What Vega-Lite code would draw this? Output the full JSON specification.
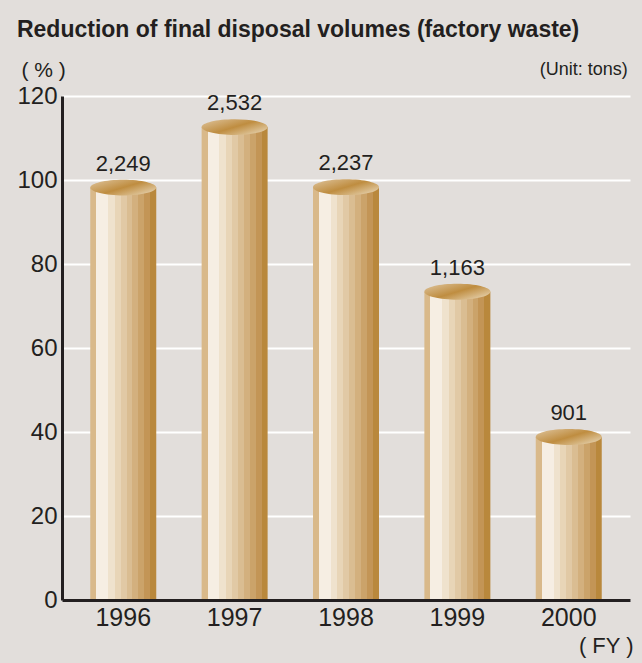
{
  "$schema": "https://vega.github.io/schema/vega-lite/v6.json",
  "width": 568,
  "height": 504,
  "autosize": {"type": "none"},
  "padding": {"left": 62, "top": 96, "right": 12, "bottom": 63},
  "background": "#e2dedb",
  "title": {
    "text": "Reduction of final disposal volumes (factory waste)",
    "anchor": "start",
    "font": "Liberation Sans",
    "fontSize": 23,
    "fontWeight": "bold",
    "color": "#231f20",
    "offset": 17
  },
  "config": {
    "view": {"stroke": null},
    "font": "Liberation Sans"
  },
  "data": {
    "values": [
      {"year": "1996", "pct": 98.2, "tons": "2,249"},
      {"year": "1997", "pct": 112.6, "tons": "2,532"},
      {"year": "1998", "pct": 98.3, "tons": "2,237"},
      {"year": "1999", "pct": 73.4, "tons": "1,163"},
      {"year": "2000", "pct": 38.8, "tons": "901"}
    ]
  },
  "encoding": {
    "x": {
      "field": "year",
      "type": "nominal",
      "scale": {"paddingInner": 0.4, "paddingOuter": 0.25},
      "axis": {
        "title": "( FY )",
        "titleFont": "Liberation Sans",
        "titleFontSize": 22,
        "titleFontWeight": "normal",
        "titleColor": "#231f20",
        "titleAnchor": "end",
        "titleAlign": "right",
        "titleBaseline": "alphabetic",
        "titleX": 571,
        "titleY": 52,
        "labelAngle": 0,
        "labelFontSize": 25,
        "labelColor": "#231f20",
        "labelPadding": 5,
        "ticks": false,
        "domainColor": "#231f20",
        "domainWidth": 3,
        "zindex": 1
      }
    },
    "y": {
      "field": "pct",
      "type": "quantitative",
      "scale": {"domain": [0, 120], "nice": false},
      "axis": {
        "values": [0, 20, 40, 60, 80, 100, 120],
        "title": "( % )",
        "titleAngle": 0,
        "titleFont": "Liberation Sans",
        "titleFontSize": 21,
        "titleFontWeight": "normal",
        "titleColor": "#231f20",
        "titleAlign": "left",
        "titleBaseline": "alphabetic",
        "titleX": -41,
        "titleY": -20,
        "labelFontSize": 24,
        "labelColor": "#231f20",
        "labelPadding": 5,
        "ticks": false,
        "domainColor": "#231f20",
        "domainWidth": 3,
        "gridColor": "#ffffff",
        "gridWidth": 2,
        "gridOpacity": 1
      }
    }
  },
  "layer": [
    {
      "mark": {
        "type": "bar",
        "size": 66,
        "color": {
          "gradient": "linear",
          "x1": 0, "x2": 1, "y1": 0, "y2": 0,
          "stops": [
            {"offset": 0, "color": "#d9b98a"},
            {"offset": 0.09, "color": "#d9b98a"},
            {"offset": 0.09, "color": "#f6eee3"},
            {"offset": 0.27, "color": "#f6eee3"},
            {"offset": 0.27, "color": "#efe2cd"},
            {"offset": 0.37, "color": "#efe2cd"},
            {"offset": 0.37, "color": "#e8d5b7"},
            {"offset": 0.46, "color": "#e8d5b7"},
            {"offset": 0.46, "color": "#e1c9a5"},
            {"offset": 0.55, "color": "#e1c9a5"},
            {"offset": 0.55, "color": "#dabd92"},
            {"offset": 0.64, "color": "#dabd92"},
            {"offset": 0.64, "color": "#d3b07e"},
            {"offset": 0.73, "color": "#d3b07e"},
            {"offset": 0.73, "color": "#cba36a"},
            {"offset": 0.82, "color": "#cba36a"},
            {"offset": 0.82, "color": "#c39556"},
            {"offset": 0.91, "color": "#c39556"},
            {"offset": 0.91, "color": "#b9883c"},
            {"offset": 1, "color": "#b9883c"}
          ]
        }
      }
    },
    {
      "mark": {
        "type": "point",
        "filled": true,
        "opacity": 1,
        "strokeWidth": 0,
        "size": 4356,
        "shape": "M-1,0A1,0.24,0,1,1,1,0A1,0.24,0,1,1,-1,0Z",
        "color": {
          "gradient": "linear",
          "x1": 0, "x2": 1, "y1": 0.1, "y2": 0.9,
          "stops": [
            {"offset": 0, "color": "#dcc096"},
            {"offset": 0.5, "color": "#bf8d40"},
            {"offset": 1, "color": "#e8d6b6"}
          ]
        }
      }
    },
    {
      "mark": {
        "type": "text",
        "fontSize": 22,
        "color": "#231f20",
        "baseline": "alphabetic",
        "dy": -17
      },
      "encoding": {
        "text": {"field": "tons", "type": "nominal"}
      }
    },
    {
      "data": {"values": [{"note": "(Unit: tons)", "year": "2000", "pct": 125}]},
      "mark": {
        "type": "text",
        "fontSize": 18,
        "color": "#231f20",
        "align": "right",
        "baseline": "alphabetic",
        "dx": 59
      },
      "encoding": {
        "text": {"field": "note", "type": "nominal"}
      }
    }
  ]
}
